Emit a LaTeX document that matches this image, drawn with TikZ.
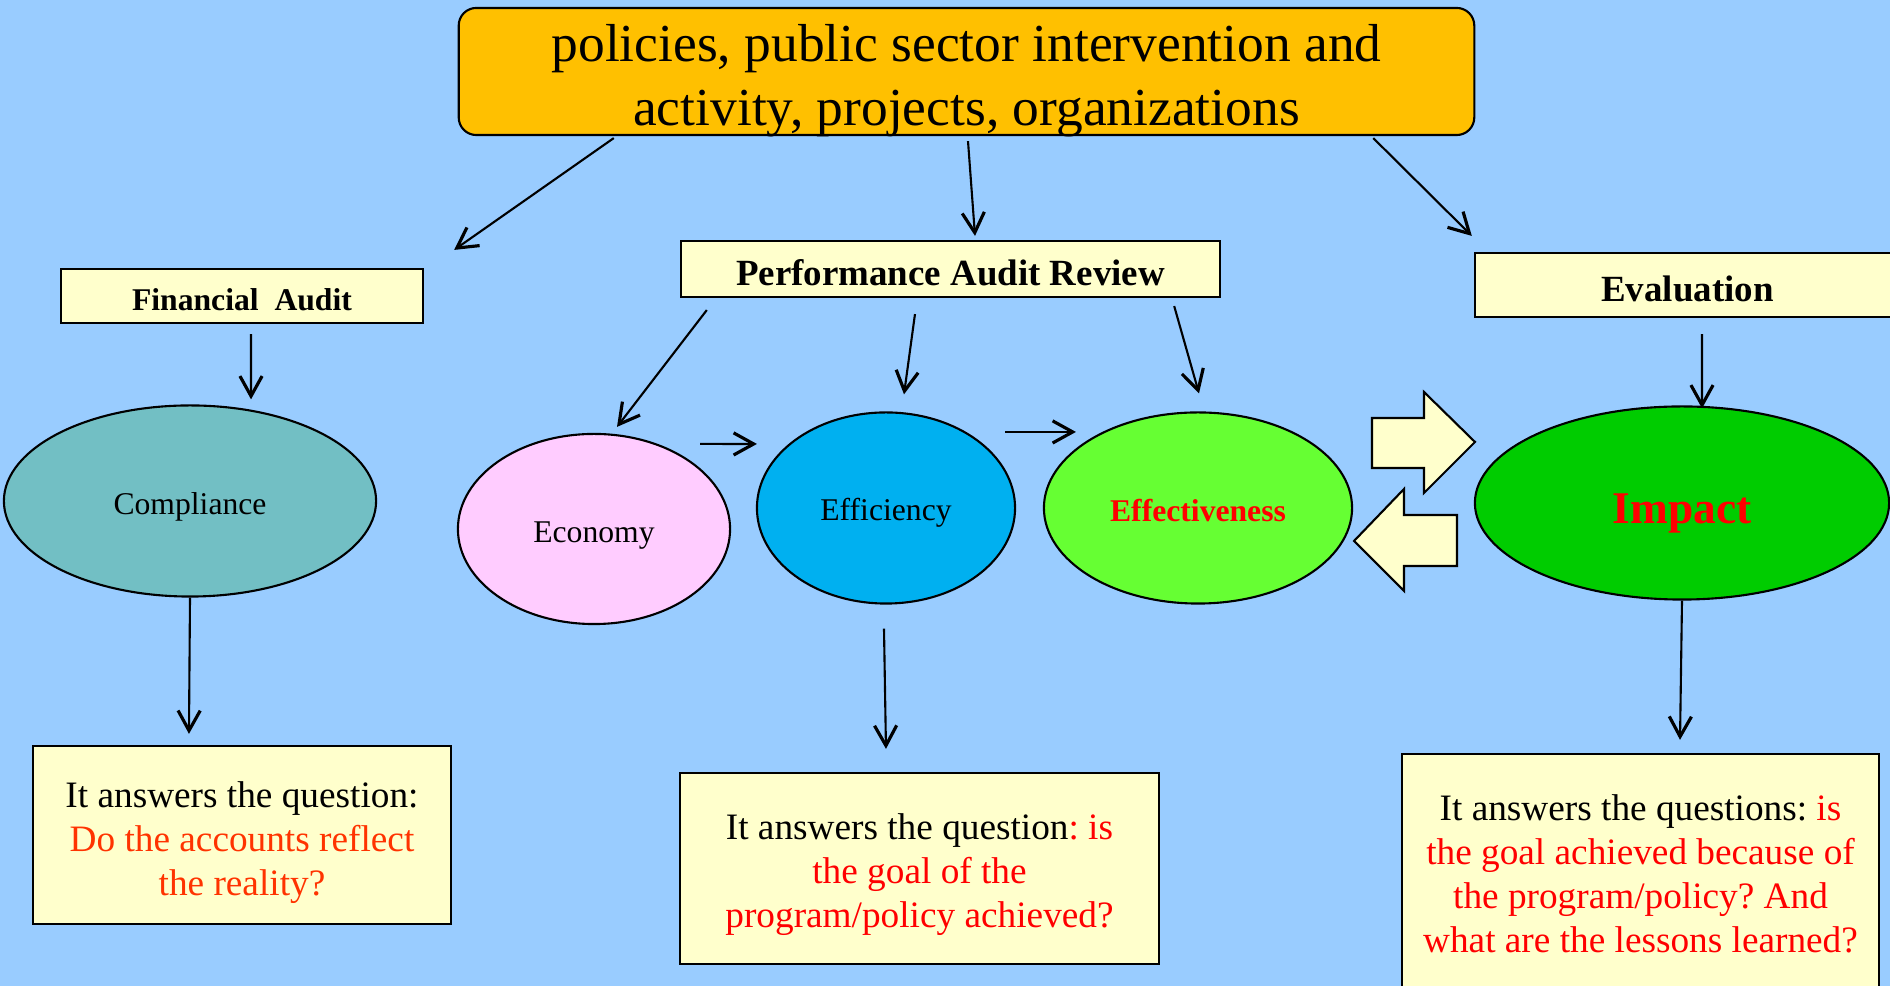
\documentclass[tikz,border=0pt]{standalone}
\usepackage{fontspec}
\setmainfont{Liberation Serif}
\frenchspacing
\definecolor{skyblue}{HTML}{99CCFF}
\definecolor{amber}{HTML}{FFC000}
\definecolor{cream}{HTML}{FFFFCC}
\definecolor{compc}{HTML}{72BFC4}
\definecolor{econc}{HTML}{FFCCFF}
\definecolor{effic}{HTML}{00B0F0}
\definecolor{effec}{HTML}{66FF33}
\definecolor{impc}{HTML}{00CC00}
\definecolor{qred}{HTML}{FF0000}
\definecolor{qorange}{HTML}{FF3300}
\usetikzlibrary{positioning,arrows.meta,shapes.geometric}

\begin{document}
\begin{tikzpicture}[x=0.01cm,y=-0.01cm,every node/.style={align=center,inner sep=0pt},
      hd/.style={draw,line width=0.6pt,fill=cream,font=\bfseries\fontsize{10.5}{12.6}\selectfont,text height=0.33cm,text depth=0pt},
      ov/.style={ellipse,draw,line width=0.6pt,font=\fontsize{9}{11}\selectfont,minimum height=1.91cm,text height=0.27cm,text depth=0pt},
      qa/.style={draw,line width=0.6pt,fill=cream,font=\fontsize{10.6}{12.5}\selectfont,text height=34.2pt,text depth=0pt},
      cn/.style={line width=0.6pt,-{Straight Barb[length=5.7pt,width=6.3pt,line width=0.9pt]}},
      blk/.style={draw,line width=0.6pt,fill=cream,line join=miter}]
    \fill[skyblue] (0,0) rectangle (1890,986);
    \useasboundingbox (0,0) rectangle (1890,986);
    % top and the three audit headers
    \node[draw,line width=0.6pt,fill=amber,rounded corners=5pt,minimum width=10.15cm,minimum height=1.27cm,
          font=\fontsize{15.2}{18.2}\selectfont,text height=30.6pt,text depth=0pt] (top) at (966.5,71.5)
          {policies, public sector intervention and\\activity, projects, organizations};
    \node[hd,font=\bfseries\fontsize{9}{11}\selectfont,text height=0.29cm,minimum width=3.62cm,minimum height=0.54cm] (fin) at (242,296) {Financial\ \ Audit};
    \node[hd,minimum width=5.39cm,minimum height=0.56cm] (perf) at (950.5,269) {Performance Audit Review};
    \node[hd,minimum width=4.25cm,minimum height=0.64cm] (eval) at (1687.5,285) {Evaluation};
    % the ovals
    \node[ov,fill=compc,minimum width=3.72cm] (comp) at (190,501) {Compliance};
    \node[ov,fill=econc,minimum width=2.72cm,minimum height=1.90cm,text height=0.28cm] (econ) at (594,529) {Economy};
    \node[ov,fill=effic,minimum width=2.58cm,text height=0.25cm] (effi) at (886,508) {Efficiency};
    \node[ov,fill=effec,minimum width=3.08cm,text=qred,font=\bfseries\fontsize{9}{11}\selectfont] (effe) at (1198,508) {Effectiveness};
    \node[ov,fill=impc,minimum width=4.14cm,minimum height=1.93cm,text=qred,font=\bfseries\fontsize{12.9}{15}\selectfont,text height=0.41cm] (imp) at (1682,503) {Impact};
    % question boxes
    \node[qa,minimum width=4.18cm,minimum height=1.78cm] (q1) at (242,835)
          {It answers the question:\\\textcolor{qorange}{Do the accounts reflect}\\\textcolor{qorange}{the reality?}};
    \node[qa,minimum width=4.79cm,minimum height=1.91cm,text height=33.6pt] (q2) at (919.5,868.5)
          {It answers the question\textcolor{qred}{: is}\\\textcolor{qred}{the goal of the}\\\textcolor{qred}{program/policy achieved?}};
    \node[qa,minimum width=4.77cm,minimum height=2.6cm,text height=44.7pt,text depth=0.21cm] (q3) at (1640.5,884)
          {It answers the questions: \textcolor{qred}{is}\\\textcolor{qred}{the goal achieved because of}\\\textcolor{qred}{the program/policy? And}\\\textcolor{qred}{what are the lessons learned?}};
    % block arrows between effectiveness and impact
    \draw[blk] (1372,418) -- (1424,418) -- (1424,392) -- (1475,442) -- (1424,493) -- (1424,468) -- (1372,468) -- cycle;
    \draw[blk] (1457,515) -- (1404,515) -- (1404,489) -- (1354,541) -- (1404,591) -- (1404,566) -- (1457,566) -- cycle;
    % connectors
    \draw[cn] ([xshift=-3.525cm,yshift=-0.02cm]top.south) -- ([xshift=0.30cm,yshift=0.18cm]fin.north east);
    \draw[cn] ([xshift=0.015cm,yshift=-0.05cm]top.south) -- ([xshift=0.245cm,yshift=0.04cm]perf.north);
    \draw[cn] ([xshift=4.065cm,yshift=-0.02cm]top.south) -- ([xshift=-0.02cm,yshift=0.16cm]eval.north west);
    \draw[cn] ([xshift=0.09cm,yshift=-0.10cm]fin.south) -- ([xshift=0.61cm,yshift=0.05cm]comp.north);
    \draw[cn] ([xshift=0.27cm,yshift=-0.12cm]perf.south west) -- ([xshift=0.23cm,yshift=0.06cm]econ.north);
    \draw[cn] ([xshift=-0.355cm,yshift=-0.16cm]perf.south) -- ([xshift=0.18cm,yshift=0.17cm]effi.north);
    \draw[cn] ([xshift=-0.47cm,yshift=-0.08cm]perf.south east) -- ([xshift=0.01cm,yshift=0.18cm]effe.north);
    \draw[cn] ([xshift=1.06cm,yshift=0.85cm]econ.center) -- ([xshift=-1.29cm,yshift=0.64cm]effi.center);
    \draw[cn] ([xshift=1.19cm,yshift=0.76cm]effi.center) -- ([xshift=-1.22cm,yshift=0.76cm]effe.center);
    \draw[cn] ([xshift=0.145cm,yshift=-0.16cm]eval.south) -- ([xshift=0.20cm,yshift=-0.03cm]imp.north);
    \draw[cn] (comp.south) -- ([xshift=-0.53cm,yshift=0.11cm]q1.north);
    \draw[cn] ([xshift=-0.02cm,yshift=-0.24cm]effi.south) -- ([xshift=-0.335cm,yshift=0.23cm]q2.north);
    \draw[cn] (imp.south) -- ([xshift=0.395cm,yshift=0.13cm]q3.north);
\end{tikzpicture}
\end{document}
